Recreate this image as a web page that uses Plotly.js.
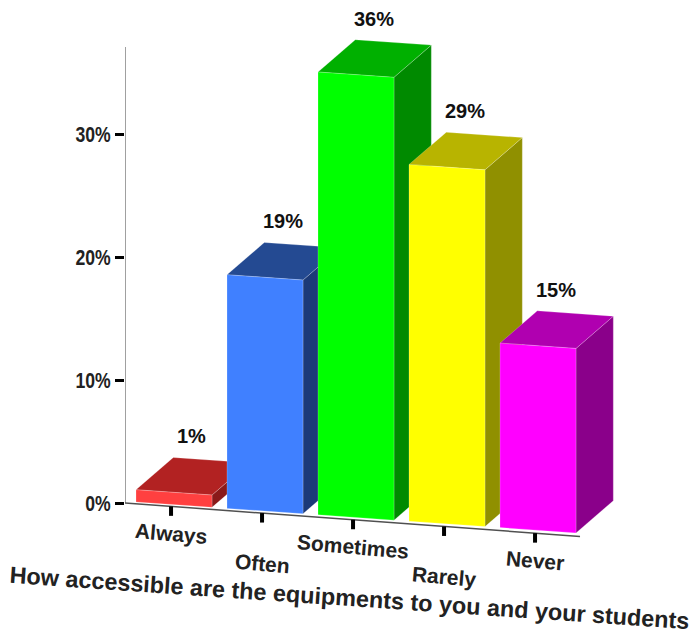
<!DOCTYPE html>
<html>
<head>
<meta charset="utf-8">
<script src="https://cdn.plot.ly/plotly-3.0.1.min.js"></script>
<style>html,body{margin:0;padding:0;background:#fff}</style>
</head>
<body>
<div id="chart" style="width:691px;height:638px"></div>
<script>
// Survey responses, in percent
const categories = ["Always", "Often", "Sometimes", "Rarely", "Never"];
const shares = [1, 19, 36, 29, 15];
const yTicks = [0, 10, 20, 30];
const axisTitle = "How accessible are the equipments to you and your students";

// Face colours of each block
const frontColors = ["#ff4040", "#4080ff", "#00ff00", "#ffff00", "#ff00ff"];
const topColors = ["#b22222", "#244a92", "#00b000", "#b8b400", "#b000b0"];
const sideColors = ["#8a1a1a", "#1c3a78", "#008a00", "#909000", "#8a008a"];

// Oblique projection parameters, in axis units
const pxPerSlot = 91, pxPerPct = 12.3;
const barWidth = 0.835, depthX = 0.41, depthY = 2.62;
const fall = 0.52;      // floor drop per category slot
const baseLift = 0.08;

const W = 691, H = 638, plotLeft = 125, zeroY = 503, firstBar = 136;
const xRange = [(plotLeft - firstBar) / pxPerSlot, (W - firstBar) / pxPerSlot];
const yRange = [(zeroY - H) / pxPerPct, zeroY / pxPerPct];
const axisTop = 37.07;
const font = "Liberation Sans, Arial, sans-serif";

const floorY = s => baseLift - fall * s;
const poly = (xs, ys, color) => ({
  type: "scatter", mode: "lines", x: xs.concat(xs[0]), y: ys.concat(ys[0]),
  fill: "toself", fillcolor: color, line: {color: "rgba(255,255,255,0.3)", width: 0.7},
  hoverinfo: "skip", showlegend: false
});
const rule = (xs, ys, color, width) => ({
  type: "scatter", mode: "lines", x: xs, y: ys,
  line: {color: color, width: width}, hoverinfo: "skip", showlegend: false
});

const axisSlope = 0.0736 * pxPerSlot / pxPerPct;
const axisY = s => -(s - xRange[0]) * axisSlope;
const axisEnd = (580 - firstBar) / pxPerSlot;

const traces = [
  rule([xRange[0], xRange[0]], [0, axisTop], "#808080", 1.5),
  rule([xRange[0], axisEnd], [0, axisY(axisEnd)], "#505050", 1.5)
];

categories.forEach((c, i) => {
  const tickX = i + 0.385;
  traces.push(rule([tickX, tickX], [axisY(tickX), axisY(tickX) - 0.77], "#000", 4));
});

const annotations = [];
shares.forEach((v, i) => {
  const l = i, r = i + barWidth;
  const bl = floorY(l), br = floorY(r);
  const tl = bl + v, tr = br + v;
  // side, top and front faces, painted left to right so nearer blocks overlap
  traces.push(poly([r, r + depthX, r + depthX, r],
                   [br, br + depthY, tr + depthY, tr], sideColors[i]));
  traces.push(poly([l, l + depthX, r + depthX, r],
                   [tl, tl + depthY, tr + depthY, tr], topColors[i]));
  traces.push(poly([l, r, r, l], [bl, br, tr, tl], frontColors[i]));
  annotations.push({
    x: l + 0.615, y: tl + depthY, yshift: 21, yanchor: "middle", xanchor: "center",
    text: v + "%", showarrow: false, font: {family: font, size: 20, color: "#111", weight: 700}
  });
});

// Category names alternate between two rows below the floor
categories.forEach((c, i) => {
  const tickX = i + 0.385;
  annotations.push({
    x: tickX, y: axisY(tickX), yshift: i % 2 ? -50 : -27, yanchor: "middle", xanchor: "center",
    text: c, showarrow: false, textangle: 5,
    font: {family: font, size: 21, color: "#222", weight: 700}
  });
});

annotations.push({
  xref: "paper", yref: "paper", x: (349 - plotLeft) / (W - plotLeft), y: 40 / H,
  xanchor: "center", yanchor: "middle", text: axisTitle, showarrow: false, textangle: 3.9,
  font: {family: font, size: 23.4, color: "#222", weight: 700}
});

Plotly.newPlot("chart", traces, {
  width: W, height: H,
  margin: {l: plotLeft, r: 0, t: 0, b: 0, pad: 0},
  paper_bgcolor: "#fff", plot_bgcolor: "rgba(0,0,0,0)",
  showlegend: false, hovermode: false, annotations: annotations,
  xaxis: {range: xRange, visible: false, fixedrange: true},
  yaxis: {
    range: yRange, tickmode: "array", tickvals: yTicks, ticktext: yTicks.map(t => t + "%"),
    ticks: "outside", ticklen: 9, tickwidth: 3, tickcolor: "#000",
    showgrid: false, zeroline: false, showline: false, fixedrange: true,
    tickfont: {family: font, size: 22, color: "#222", weight: 700}
  }
}, {displayModeBar: false, staticPlot: true}).then(gd => {
  // The value-axis labels are set in a condensed cut, so squeeze them about their right edge
  gd.querySelectorAll(".ytick text").forEach(t => {
    const x = parseFloat(t.getAttribute("x")), y = parseFloat(t.getAttribute("y"));
    const base = t.getAttribute("transform") || "";
    t.setAttribute("transform", base + " translate(" + x + "," + y + ") scale(0.8,1) translate(" + (-x) + "," + (-y) + ")");
  });
});
</script>
</body>
</html>
